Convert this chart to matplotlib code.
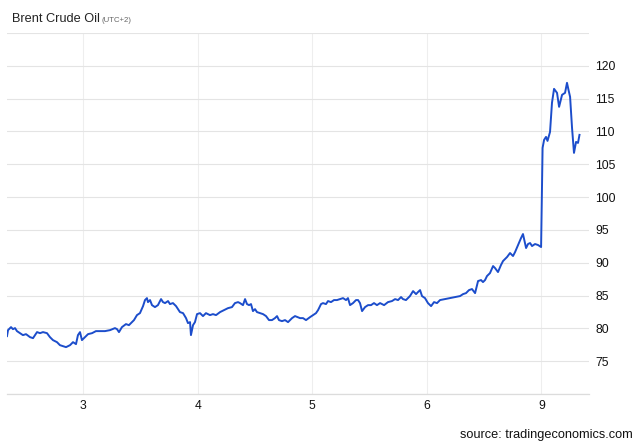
import matplotlib
matplotlib.use("Agg")
import matplotlib.pyplot as plt

# position in trading days (0 = day 3, 1 = day 4, 2 = day 5, 3 = day 6, 4 = day 9)
t = [-0.663, -0.654, -0.628, -0.611, -0.593, -0.576, -0.550, -0.524, -0.497, -0.462,
     -0.436, -0.401, -0.375, -0.349, -0.314, -0.288, -0.262, -0.227, -0.201, -0.175,
     -0.148, -0.113, -0.087, -0.061, -0.044, -0.026, -0.009, 0.017, 0.044, 0.079,
     0.113, 0.140, 0.192, 0.236, 0.279, 0.297, 0.314, 0.340, 0.375, 0.401,
     0.428, 0.445, 0.471, 0.497, 0.524, 0.541, 0.558, 0.567, 0.585, 0.602,
     0.628, 0.654, 0.681, 0.698, 0.716, 0.742, 0.759, 0.785, 0.812, 0.846,
     0.873, 0.899, 0.916, 0.934, 0.942, 0.960, 0.977, 0.995, 1.021, 1.047,
     1.073, 1.108, 1.134, 1.161, 1.196, 1.230, 1.265, 1.300, 1.326, 1.353,
     1.370, 1.396, 1.414, 1.431, 1.449, 1.466, 1.483, 1.501, 1.518, 1.545,
     1.571, 1.597, 1.623, 1.649, 1.675, 1.693, 1.710, 1.736, 1.763, 1.789,
     1.824, 1.850, 1.894, 1.920, 1.946, 1.981, 2.007, 2.033, 2.051, 2.077,
     2.094, 2.120, 2.138, 2.164, 2.190, 2.216, 2.243, 2.269, 2.295, 2.312,
     2.330, 2.356, 2.382, 2.400, 2.417, 2.435, 2.461, 2.487, 2.513, 2.539,
     2.565, 2.592, 2.627, 2.661, 2.696, 2.723, 2.749, 2.775, 2.792, 2.818,
     2.845, 2.853, 2.880, 2.906, 2.923, 2.941, 2.958, 2.984, 3.010, 3.037,
     3.063, 3.089, 3.115, 3.159, 3.202, 3.246, 3.290, 3.316, 3.342, 3.368,
     3.394, 3.421, 3.447, 3.473, 3.490, 3.508, 3.525, 3.551, 3.578, 3.595,
     3.621, 3.647, 3.665, 3.700, 3.726, 3.752, 3.770, 3.796, 3.822, 3.839,
     3.866, 3.883, 3.901, 3.918, 3.944, 3.970, 3.997, 4.010, 4.023, 4.040,
     4.053, 4.075, 4.092, 4.110, 4.136, 4.154, 4.180, 4.206, 4.223, 4.236,
     4.250, 4.267, 4.284, 4.302, 4.319, 4.332]

price = [78.82, 79.73, 80.19, 79.88, 80.04, 79.58, 79.27, 78.97, 79.12, 78.66,
         78.51, 79.43, 79.27, 79.43, 79.27, 78.66, 78.21, 77.90, 77.44, 77.29,
         77.14, 77.44, 77.90, 77.60, 78.97, 79.43, 78.21, 78.66, 79.12, 79.27,
         79.58, 79.58, 79.58, 79.73, 80.04, 79.88, 79.43, 80.19, 80.65, 80.49,
         80.95, 81.26, 82.02, 82.32, 83.39, 84.31, 84.61, 84.00, 84.31, 83.54,
         83.24, 83.54, 84.46, 84.00, 83.85, 84.16, 83.70, 83.85, 83.39, 82.48,
         82.32, 81.56, 80.80, 80.95, 78.97, 80.49, 80.95, 82.17, 82.32, 81.87,
         82.32, 82.02, 82.17, 82.02, 82.48, 82.78, 83.08, 83.24, 83.85, 84.00,
         83.85, 83.54, 84.46, 83.70, 83.54, 83.70, 82.63, 82.93, 82.48, 82.32,
         82.17, 81.87, 81.26, 81.26, 81.56, 81.87, 81.26, 81.10, 81.26, 80.95,
         81.56, 81.87, 81.56, 81.56, 81.26, 81.71, 82.02, 82.32, 82.78, 83.70,
         83.85, 83.70, 84.16, 84.00, 84.31, 84.31, 84.46, 84.61, 84.31, 84.61,
         83.54, 83.85, 84.31, 84.31, 83.85, 82.63, 83.24, 83.54, 83.54, 83.85,
         83.54, 83.85, 83.54, 84.00, 84.16, 84.46, 84.31, 84.77, 84.46, 84.31,
         84.77, 84.92, 85.68, 85.22, 85.53, 85.83, 84.92, 84.61, 83.85, 83.39,
         84.00, 83.85, 84.31, 84.46, 84.61, 84.77, 84.92, 85.22, 85.37, 85.83,
         85.99, 85.37, 87.21, 87.36, 87.05, 87.36, 87.97, 88.42, 89.49, 89.19,
         88.58, 89.65, 90.26, 90.87, 91.48, 91.02, 91.63, 92.70, 93.76, 94.37,
         92.24, 92.85, 93.00, 92.54, 92.85, 92.70, 92.39, 107.49, 108.71, 109.17,
         108.56, 109.93, 114.36, 116.49, 115.88, 113.75, 115.58, 115.88, 117.41, 116.34,
         115.27, 110.54, 106.73, 108.41, 108.25, 109.48]

day_pos = [0, 1, 2, 3, 4]
day_labels = ["3", "4", "5", "6", "9"]
y_grid = [70, 75, 80, 85, 90, 95, 100, 105, 110, 115, 120, 125]
y_labels = ["", "75", "80", "85", "90", "95", "100", "105", "110", "115", "120", ""]

plt.rcParams["font.family"] = ["Liberation Sans", "DejaVu Sans"]

W, H = 640, 444
fig = plt.figure(figsize=(W / 100, H / 100), dpi=100)
ax = fig.add_axes([7 / W, 1 - 394 / H, 582 / W, 361 / H])

ax.plot(t, price, color="#1c4dcb", lw=1.4, solid_joinstyle="round")

ax.set_xlim(-0.663, 4.415)
ax.set_ylim(70, 125)
ax.set_xticks(day_pos)
ax.set_xticklabels(day_labels)
ax.set_yticks(y_grid)
ax.set_yticklabels(y_labels)
ax.yaxis.tick_right()
ax.tick_params(axis="both", length=0, labelsize=8.7, colors="#111111")
ax.tick_params(axis="y", pad=4.5)
ax.tick_params(axis="x", pad=4.5)
ax.grid(True, axis="y", color="#e4e4e4", lw=0.8)
ax.grid(True, axis="x", color="#eeeeee", lw=0.8)
ax.set_axisbelow(True)
for s in ax.spines.values():
    s.set_visible(False)
ax.spines["bottom"].set_visible(True)
ax.spines["bottom"].set_color("#dcdcdc")
ax.spines["bottom"].set_linewidth(0.9)

ybase = 1 - 22 / H
fig.text(12 / W, ybase, "Brent Crude Oil", fontsize=9.2, color="#222222", va="baseline", ha="left")
fig.text(102 / W, ybase, "(UTC+2)", fontsize=5.6, color="#666666", va="baseline", ha="left")
fig.text(633 / W, 1 - 438 / H, "source: tradingeconomics.com", fontsize=9.2, color="#111111",
         va="baseline", ha="right")

fig.savefig("out.png", dpi=100)
